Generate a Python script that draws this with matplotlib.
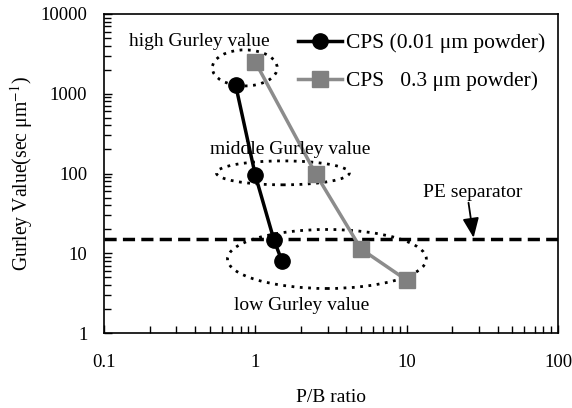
import matplotlib
matplotlib.use("Agg")
import matplotlib.pyplot as plt
from matplotlib.patches import Ellipse

plt.rcParams['font.family'] = ['Liberation Serif', 'DejaVu Serif']
plt.rcParams['mathtext.fontset'] = 'stix'

# data
pb_fine = [0.74, 1.0, 1.33, 1.5]
gurley_fine = [1300, 95, 14.5, 8.0]
pb_coarse = [1.0, 2.5, 5.0, 10.0]
gurley_coarse = [2500, 100, 11.3, 4.6]
pe_separator = 15

fig = plt.figure(figsize=(5.72, 4.08), dpi=100)
ax = fig.add_axes([104/572, 1 - 333/408, 454/572, 319/408])

ax.plot(pb_fine, gurley_fine, "-o", color="black", lw=2.5, ms=11,
        label="CPS (0.01 \u03bcm powder)", zorder=4)
ax.plot(pb_coarse, gurley_coarse, "-s", color="#8c8c8c", mfc="#808080",
        mec="#808080", lw=2.5, ms=12, label="CPS   0.3 \u03bcm powder)", zorder=3)
ax.axhline(pe_separator, color="black", lw=2.5, ls=(0, (3.5, 1.8)), zorder=2)

ax.set_xscale("log")
ax.set_yscale("log")
ax.set_xlim(0.1, 100)
ax.set_ylim(1, 10000)
ax.set_xticks([0.1, 1, 10, 100])
ax.set_xticklabels(["0.1", "1", "10", "100"])
ax.set_yticks([1, 10, 100, 1000, 10000])
ax.set_yticklabels(["1", "10", "100", "1000", "10000"])
ax.tick_params(which="both", direction="in", labelsize=13.5, top=False, right=False)
ax.tick_params(which="major", length=6, width=1)
ax.tick_params(which="minor", length=5, width=1)
ax.tick_params(axis="x", pad=15)
ax.tick_params(axis="y", pad=12)
for s in ax.spines.values():
    s.set_linewidth(1.2)

ax.set_xlabel("P/B ratio", fontsize=14, labelpad=13)
ax.set_ylabel("Gurley Value(sec \u03bcm$^{-1}$)", fontsize=14.2, labelpad=4)

# dotted ellipses
ells = [(0.31, 0.831, 0.143, 0.113), (0.394, 0.502, 0.293, 0.075), (0.491, 0.232, 0.438, 0.185)]
for cx, cy, w, h in ells:
    ax.add_patch(Ellipse((cx, cy), w, h, transform=ax.transAxes, fill=False,
                         ls=(0, (1, 2)), lw=2, color="black", zorder=1))

ax.text(0.21, 0.915, "high Gurley value", transform=ax.transAxes, ha="center", va="center", fontsize=14)
ax.text(0.41, 0.575, "middle Gurley value", transform=ax.transAxes, ha="center", va="center", fontsize=14)
ax.text(0.436, 0.085, "low Gurley value", transform=ax.transAxes, ha="center", va="center", fontsize=14)
ax.text(0.811, 0.442, "PE separator", transform=ax.transAxes, ha="center", va="center", fontsize=14)
ax.annotate("", xy=(0.815, 0.29), xytext=(0.802, 0.417), xycoords="axes fraction",
            arrowprops=dict(arrowstyle="-|>,head_length=1.2,head_width=0.5", color="black", lw=1.3))

ax.legend(loc="upper right", frameon=False, fontsize=15.5, handlelength=2.0,
          handletextpad=0.2, borderaxespad=0.2, labelspacing=0.82, bbox_to_anchor=(1.0, 0.98))

fig.savefig("out.png", dpi=100)
